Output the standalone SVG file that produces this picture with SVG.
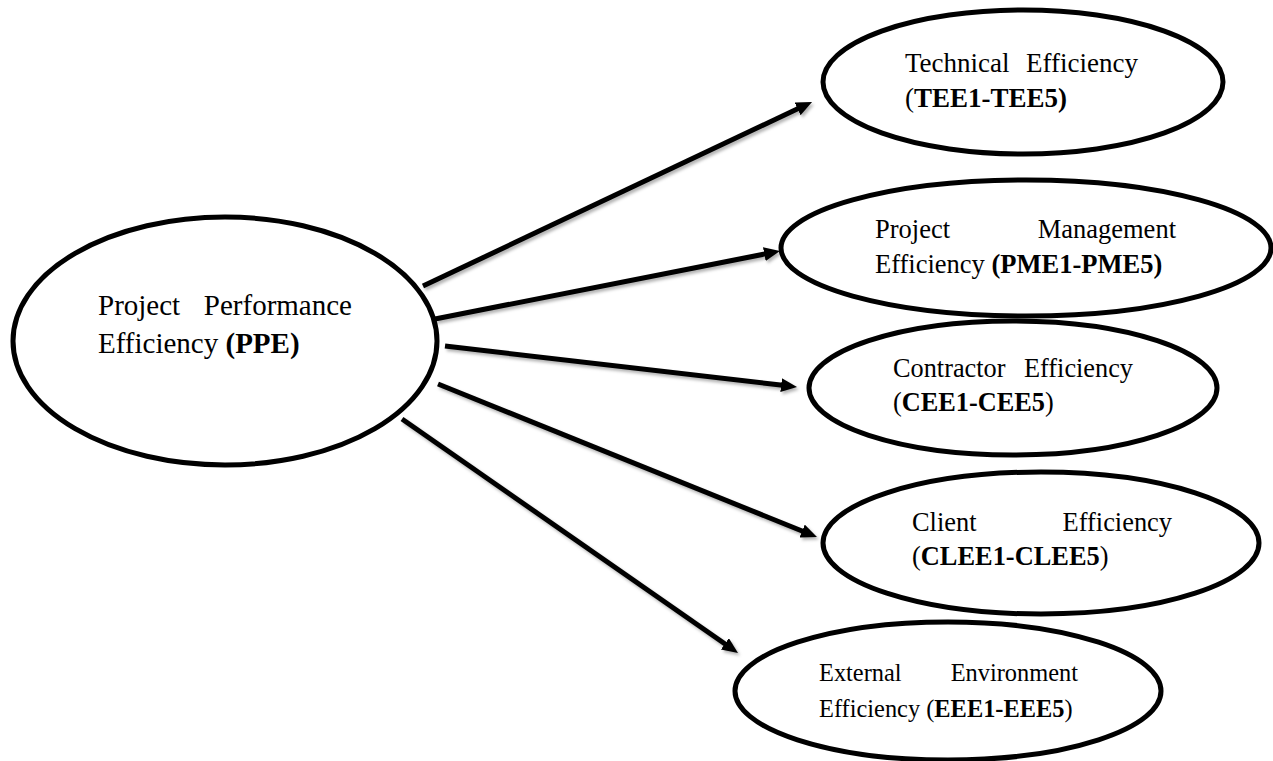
<svg xmlns="http://www.w3.org/2000/svg" width="1273" height="761" viewBox="0 0 1273 761">
<style>
.node{fill:#fff;stroke:#000;stroke-width:5}
.t{font-family:"Liberation Serif","Times New Roman",Times,serif;font-size:26.5px;fill:#000}
.b{font-weight:bold}
.e{text-anchor:end}
.c{stroke:#000;stroke-width:5;fill:none;marker-end:url(#ah)}
</style>
<defs>
<marker id="ah" markerUnits="userSpaceOnUse" markerWidth="18" markerHeight="16" refX="6" refY="7" orient="auto">
<path d="M0,0 L16,7 L0,14 Z" fill="#000"/>
</marker>
<filter id="sh" x="-10%" y="-10%" width="120%" height="130%">
<feDropShadow dx="2" dy="2.5" stdDeviation="1.5" flood-color="#000" flood-opacity="0.3"/>
</filter>
</defs>
<rect width="1273" height="761" fill="#fff"/>
<g id="connectors" filter="url(#sh)">
<line class="c" x1="423" y1="286" x2="803" y2="106.3"/>
<line class="c" x1="435" y1="319" x2="770.2" y2="252.9"/>
<line class="c" x1="445" y1="346" x2="787.1" y2="385.8"/>
<line class="c" x1="438" y1="384" x2="807.7" y2="533.3"/>
<line class="c" x1="402" y1="419" x2="729.8" y2="647.3"/>
</g>
<g id="PPE">
<ellipse class="node" cx="225" cy="341" rx="212" ry="124"/>
<text class="t" style="font-size:29px" x="98" y="315">Project</text>
<text class="t e" style="font-size:29px" x="352" y="315">Performance</text>
<text class="t" style="font-size:29px" x="98" y="353">Efficiency <tspan class="b">(PPE)</tspan></text>
</g>
<g id="TEE">
<ellipse class="node" cx="1023" cy="82" rx="200" ry="72"/>
<text class="t" style="font-size:27px" x="905" y="72">Technical</text>
<text class="t e" style="font-size:27px" x="1138" y="72">Efficiency</text>
<text class="t" style="font-size:27px" x="905" y="107">(<tspan class="b">TEE1-TEE5)</tspan></text>
</g>
<g id="PME">
<ellipse class="node" cx="1026" cy="248" rx="245" ry="68"/>
<text class="t" x="875" y="238">Project</text>
<text class="t e" x="1176" y="238">Management</text>
<text class="t" x="875" y="273">Efficiency <tspan class="b">(PME1-PME5)</tspan></text>
</g>
<g id="CEE">
<ellipse class="node" cx="1013" cy="388" rx="204" ry="67"/>
<text class="t" style="font-size:26.3px" x="893" y="377">Contractor</text>
<text class="t e" style="font-size:26.3px" x="1133" y="377">Efficiency</text>
<text class="t" style="font-size:26.3px" x="893" y="411">(<tspan class="b">CEE1-CEE5</tspan>)</text>
</g>
<g id="CLEE">
<ellipse class="node" cx="1041" cy="543" rx="218" ry="71"/>
<text class="t" style="font-size:26.4px" x="912" y="531">Client</text>
<text class="t e" style="font-size:26.4px" x="1172" y="531">Efficiency</text>
<text class="t" style="font-size:26.4px" x="912" y="565">(<tspan class="b">CLEE1-CLEE5</tspan>)</text>
</g>
<g id="EEE">
<ellipse class="node" cx="948" cy="691" rx="213" ry="69"/>
<text class="t" style="font-size:24.4px" x="819" y="681">External</text>
<text class="t e" style="font-size:24.4px" x="1078" y="681">Environment</text>
<text class="t" style="font-size:24.4px" x="819" y="717">Efficiency (<tspan class="b">EEE1-EEE5</tspan>)</text>
</g>
</svg>
